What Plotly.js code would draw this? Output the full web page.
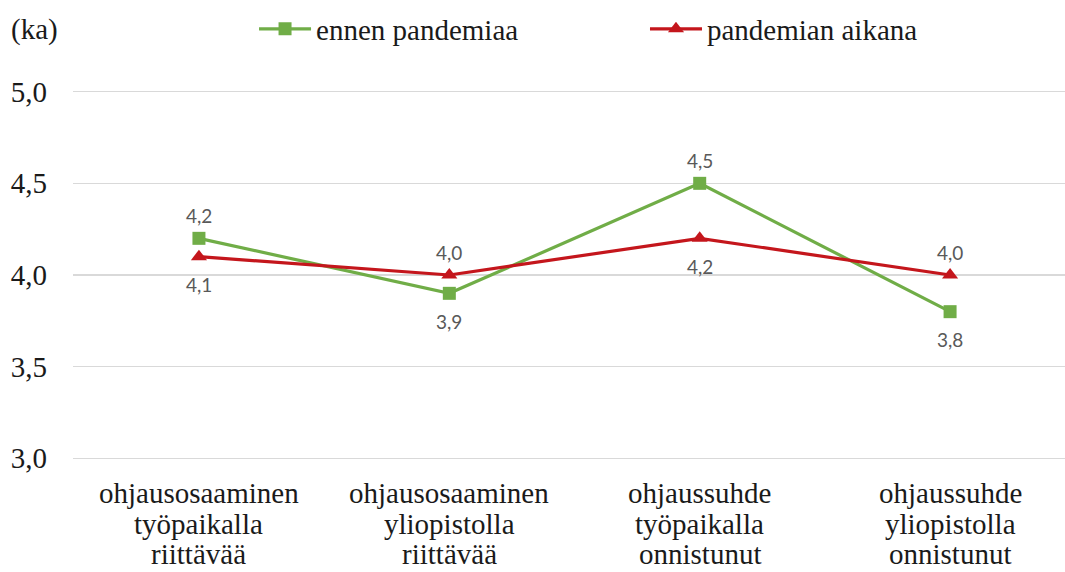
<!DOCTYPE html>
<html><head><meta charset="utf-8">
<script src="https://cdn.plot.ly/plotly-3.0.1.min.js"></script>
<style>body{margin:0;background:#fff}#c{width:1065px;height:572px}</style>
</head><body><div id="c"></div>
<script>
var categories = [
  ["ohjausosaaminen","työpaikalla","riittävää"],
  ["ohjausosaaminen","yliopistolla","riittävää"],
  ["ohjaussuhde","työpaikalla","onnistunut"],
  ["ohjaussuhde","yliopistolla","onnistunut"]
];
var seriesNames = ["ennen pandemiaa","pandemian aikana"];
var before = [4.2, 3.9, 4.5, 3.8];
var during = [4.1, 4.0, 4.2, 4.0];
var beforeSide = ["above","below","above","below"];
var duringSide = ["below","above","below","above"];
var yTicks = [3.0, 3.5, 4.0, 4.5, 5.0];
var yUnit = "(ka)";

var SERIF = "'Liberation Serif', 'DejaVu Serif', serif";
var TXT = "#1a1a1a";
var labelFont = {family:"Lato, 'DejaVu Sans', sans-serif", size:19, color:"#595959"};
var xs = categories.map(function(_, i){ return i; });
var fmt = function(v){ return v.toFixed(1).replace(".", ","); };
var traces = [
 {x:xs, y:before, name:seriesNames[0], type:"scatter", mode:"lines+markers",
  line:{color:"#70AD47", width:3.2}, marker:{symbol:"square", size:13, color:"#70AD47"},
  cliponaxis:false, legend:"legend"},
 {x:xs, y:during, name:seriesNames[1], type:"scatter", mode:"lines+markers",
  line:{color:"#C4161C", width:3.2}, marker:{symbol:"triangle-up", size:14, color:"#C4161C"},
  cliponaxis:false, legend:"legend2"}
];
var legFont = {family:SERIF, size:29, color:TXT};
var plotTop = 88, plotBottomMargin = 110, plotH = 572 - plotBottomMargin - plotTop;
function py(px){ return (572 - plotBottomMargin - px) / plotH; }
var lineY = [py(493), py(523.5), py(554)];
var annotations = [{xref:"paper", yref:"paper", x:-0.065, y:py(29), xanchor:"left", yanchor:"middle", text:yUnit,
   showarrow:false, font:{family:SERIF, size:29, color:TXT}}];
categories.forEach(function(lines, i){
  lines.forEach(function(t, j){
    annotations.push({xref:"x", yref:"paper", x:i, y:lineY[j], text:t, showarrow:false,
      xanchor:"center", yanchor:"middle", font:{family:SERIF, size:29, color:TXT}});
  });
});
[[before, beforeSide],[during, duringSide]].forEach(function(s){
  s[0].forEach(function(v, i){
    annotations.push({xref:"x", yref:"y", x:xs[i], y:v, text:fmt(v), showarrow:false,
      xanchor:"center", yanchor:"middle", yshift: s[1][i] === "above" ? 23 : -28, font:labelFont});
  });
});
var layout = {
 width:1065, height:572, paper_bgcolor:"#fff", plot_bgcolor:"#fff",
 margin:{l:73, r:0, t:plotTop, b:plotBottomMargin},
 separators:",.",
 font:{family:SERIF, color:TXT},
 showlegend:true,
 legend:{orientation:"h", x:0.1825, xanchor:"left", y:py(29), yanchor:"middle", font:legFont, itemwidth:52, bgcolor:"rgba(0,0,0,0)"},
 legend2:{orientation:"h", x:0.5766, xanchor:"left", y:py(29), yanchor:"middle", font:legFont, itemwidth:52, bgcolor:"rgba(0,0,0,0)"},
 xaxis:{range:[-0.503,3.459], tickvals:xs, ticktext:xs.map(function(){return "";}), showgrid:false,
   zeroline:false, showline:false, ticks:""},
 yaxis:{range:[2.98,5.02], tickvals:yTicks, tickformat:".1f", showgrid:true, gridcolor:"#D9D9D9", gridwidth:1.5,
   zeroline:false, showline:false, ticks:"", tickfont:{family:SERIF, size:29, color:TXT}, ticklabelstandoff:25},
 annotations:annotations
};
Plotly.newPlot("c", traces, layout, {displayModeBar:false, staticPlot:true});
</script></body></html>
